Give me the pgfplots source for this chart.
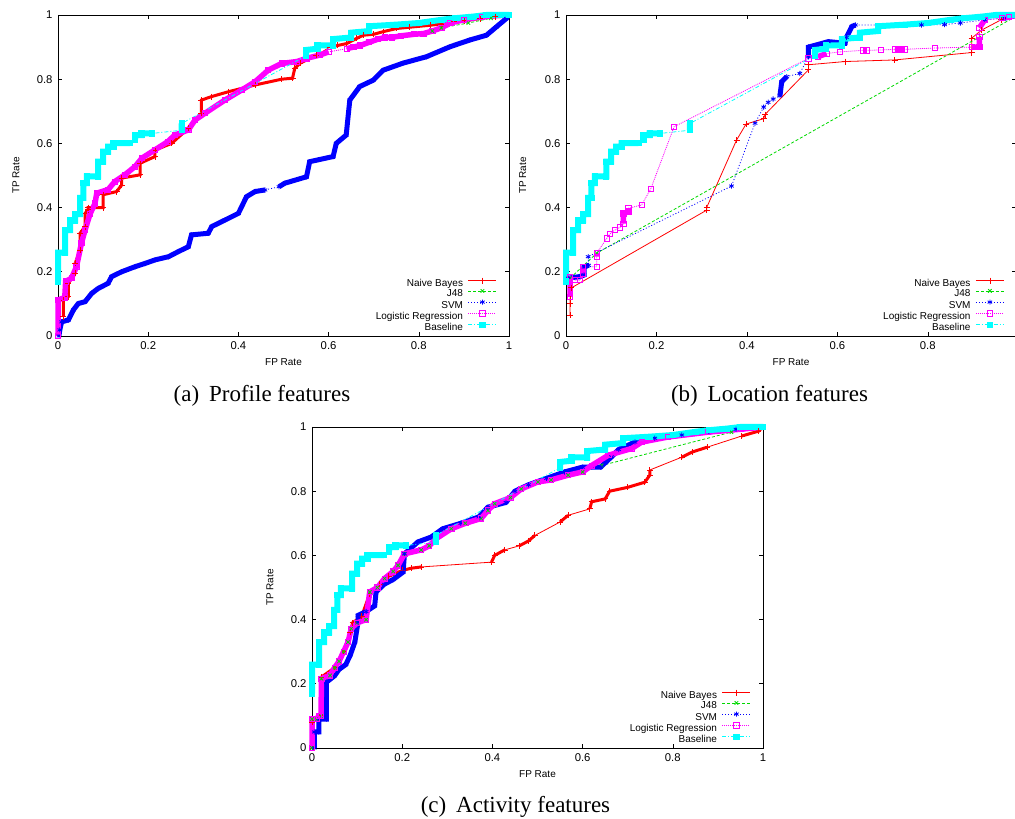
\documentclass[border=0pt]{standalone}
\usepackage{fontspec}
\setmainfont{Liberation Serif}
\setsansfont{Liberation Sans}
\newfontfamily\plotfont{Liberation Sans}
\usepackage{pgfplots}
\usepackage{pgfplotstable}
\pgfplotsset{compat=1.18}

\definecolor{nbred}{rgb}{1,0,0}
\definecolor{jgreen}{rgb}{0,0.85,0}
\definecolor{sblue}{rgb}{0,0,1}
\definecolor{lmag}{rgb}{1,0,1}
\definecolor{bcyan}{rgb}{0,1,1}

% ROC points (FP rate, TP rate); "nan" rows split the dense runs drawn as bands
\pgfplotstableread{
x y
0 0.17
0 0.26
0.016 0.26
0.016 0.33
0.027 0.33
0.027 0.36
0.038 0.36
0.038 0.38
0.049 0.38
0.049 0.43
0.056 0.43
0.056 0.476
0.064 0.476
0.064 0.497
0.089 0.497
0.089 0.543
0.100 0.543
0.100 0.574
0.111 0.574
0.111 0.590
0.123 0.590
0.123 0.601
0.160 0.601
nan nan
0.171 0.612
0.171 0.626
0.185 0.626
0.185 0.631
0.208 0.631
nan nan
0.274 0.641
0.274 0.662
nan nan
0.550 0.873
0.550 0.891
0.575 0.895
0.575 0.905
0.61 0.905
0.61 0.925
0.65 0.93
0.65 0.945
0.69 0.95
0.69 0.965
0.75 0.97
0.80 0.975
0.85 0.985
0.88 0.99
0.92 0.995
0.95 1
1 1
}\baseline

% ---------- Profile features ----------
\pgfplotstableread{
x y
0.012 0.06
0.012 0.112
0.023 0.123
0.023 0.164
0.038 0.196
0.038 0.226
0.049 0.268
0.049 0.32
0.060 0.341
0.060 0.382
0.067 0.393
0.067 0.40
0.10 0.40
0.10 0.44
0.13 0.45
0.141 0.47
0.141 0.492
0.182 0.502
0.182 0.538
0.215 0.559
0.215 0.579
0.252 0.60
0.289 0.647
0.318 0.694
0.318 0.735
0.341 0.746
0.378 0.761
0.437 0.782
0.496 0.80
0.52 0.803
0.525 0.834
0.537 0.85
0.573 0.875
nan nan
0.603 0.90
0.62 0.905
0.64 0.911
0.662 0.927
0.677 0.937
0.70 0.94
0.721 0.948
0.751 0.958
0.78 0.962
0.825 0.968
0.85 0.972
0.877 0.979
0.90 0.982
0.936 0.989
0.97 0.995
1 1
}\profNB

\pgfplotstableread{
x y
0.83 0.95
0.85 0.96
0.91 0.975
0.96 0.99
1 1
}\profJ

\pgfplotstableread{
x y
0.002 0
0.004 0.019
0.008 0.044
0.023 0.05
0.034 0.081
0.045 0.101
0.060 0.107
0.075 0.133
0.089 0.148
0.111 0.164
0.119 0.185
0.141 0.20
0.171 0.216
0.193 0.226
0.215 0.237
0.245 0.247
0.267 0.263
0.289 0.278
0.296 0.315
0.333 0.32
0.341 0.341
0.37 0.361
0.40 0.382
0.418 0.434
0.437 0.45
0.459 0.455
nan nan
0.49 0.465
0.503 0.476
0.551 0.496
0.558 0.543
0.61 0.559
0.617 0.60
0.639 0.626
0.647 0.735
0.669 0.777
0.699 0.797
0.721 0.828
0.765 0.85
0.817 0.87
0.869 0.901
0.913 0.922
0.95 0.937
0.972 0.963
0.994 0.989
1 1
}\profSVM

\pgfplotstableread{
x y
0 0
0 0.112
0.015 0.12
0.017 0.17
0.03 0.18
0.041 0.216
0.052 0.289
0.060 0.33
0.071 0.38
0.082 0.413
0.086 0.445
0.111 0.456
0.126 0.481
0.148 0.502
0.171 0.528
0.186 0.554
0.214 0.579
0.243 0.605
0.259 0.626
0.289 0.642
0.304 0.673
0.326 0.694
0.37 0.735
0.407 0.766
0.437 0.792
0.466 0.828
0.496 0.849
0.53 0.855
0.551 0.865
0.58 0.875
0.60 0.885
nan nan
0.64 0.895
0.655 0.90
0.67 0.905
0.69 0.915
0.71 0.925
0.725 0.93
0.74 0.93
0.76 0.935
0.79 0.94
0.81 0.942
0.83 0.95
0.85 0.96
0.87 0.975
0.90 0.985
0.94 0.995
1 1
}\profLR

% ---------- Location features ----------
\pgfplotstableread{
x y
0.009 0.065
0.009 0.10
0.009 0.115
0.012 0.15
0.311 0.392
0.311 0.40
0.377 0.61
0.398 0.66
0.437 0.677
0.44 0.69
0.536 0.829
0.536 0.845
0.617 0.855
0.727 0.86
0.897 0.883
0.897 0.928
0.919 0.953
0.962 0.985
1 1
}\locNB

\pgfplotstableread{
x y
0.009 0.18
0.068 0.258
1 1
}\locJ

\pgfplotstableread{
x y
0.005 0.18
0.03 0.185
0.04 0.19
0.04 0.215
0.05 0.22
nan nan
0.049 0.247
nan nan
0.366 0.467
nan nan
0.418 0.663
nan nan
0.437 0.713
nan nan
0.447 0.728
nan nan
0.458 0.738
nan nan
0.473 0.748
0.477 0.792
0.488 0.808
nan nan
0.517 0.818
nan nan
0.536 0.87
0.536 0.90
0.58 0.917
0.617 0.912
0.62 0.93
0.632 0.964
0.64 0.969
nan nan
0.786 0.969
nan nan
0.837 0.97
nan nan
0.872 0.975
nan nan
0.926 0.985
nan nan
0.97 0.99
1 1
}\locSVM

\pgfplotstableread{
x y
0.009 0.122
0.009 0.185
nan nan
0.02 0.174
nan nan
0.031 0.174
nan nan
0.038 0.195
0.038 0.216
nan nan
0.068 0.216
nan nan
0.068 0.247
0.068 0.258
nan nan
0.09 0.304
nan nan
0.097 0.318
nan nan
0.108 0.33
nan nan
0.119 0.338
nan nan
0.127 0.35
0.127 0.382
0.138 0.387
0.138 0.398
nan nan
0.167 0.408
nan nan
0.187 0.457
nan nan
0.239 0.652
nan nan
0.536 0.865
nan nan
0.557 0.87
0.576 0.88
nan nan
0.606 0.885
nan nan
0.657 0.89
0.665 0.89
nan nan
0.697 0.891
nan nan
0.727 0.893
0.738 0.893
0.749 0.893
nan nan
0.815 0.897
nan nan
0.897 0.90
0.914 0.90
0.914 0.932
nan nan
0.914 0.96
0.926 0.985
nan nan
0.963 0.99
0.98 0.995
1 1
}\locLR

% ---------- Activity features ----------
\pgfplotstableread{
x y
0 0
0 0.08
0.02 0.10
0.02 0.22
0.05 0.25
0.07 0.30
0.085 0.36
0.09 0.39
0.11 0.41
0.128 0.48
0.15 0.51
0.17 0.535
0.20 0.553
0.22 0.56
0.242 0.564
nan nan
0.398 0.579
0.405 0.60
0.427 0.617
nan nan
0.46 0.63
0.48 0.645
0.494 0.662
nan nan
0.55 0.704
0.568 0.725
nan nan
0.616 0.745
0.62 0.767
0.65 0.776
0.66 0.80
0.70 0.812
0.738 0.828
0.749 0.85
0.749 0.866
nan nan
0.82 0.906
0.843 0.922
0.876 0.937
nan nan
0.953 0.972
0.99 0.987
1 1
}\actNB

\pgfplotstableread{
x y
0 0
0 0.09
0.01 0.09
0.02 0.10
0.021 0.216
0.04 0.226
0.05 0.25
0.06 0.27
0.07 0.30
0.08 0.33
0.087 0.372
0.10 0.39
0.12 0.40
0.128 0.486
0.145 0.50
0.161 0.528
0.18 0.55
0.191 0.569
0.205 0.605
0.242 0.617
0.26 0.63
0.275 0.652
0.309 0.683
0.34 0.70
0.375 0.715
0.39 0.74
0.405 0.761
0.44 0.78
0.464 0.807
0.501 0.829
0.53 0.835
0.568 0.85
0.60 0.86
0.642 0.88
0.93 0.984
1 1
}\actJ

\pgfplotstableread{
x y
0.005 0
0.005 0.05
0.015 0.05
0.015 0.09
0.032 0.09
0.032 0.205
0.05 0.225
0.06 0.245
0.075 0.26
0.085 0.29
0.095 0.33
0.102 0.392
0.102 0.413
0.12 0.425
0.139 0.443
0.142 0.486
0.16 0.51
0.18 0.525
0.202 0.548
0.205 0.605
0.235 0.642
0.264 0.657
0.29 0.683
0.33 0.70
0.37 0.72
0.39 0.75
0.43 0.765
0.45 0.80
0.48 0.82
0.52 0.84
0.56 0.86
0.60 0.875
0.64 0.875
0.664 0.907
0.68 0.93
0.716 0.953
0.76 0.965
0.82 0.975
0.88 0.985
0.94 0.993
1 1
}\actSVM

\pgfplotstableread{
x y
0 0
0 0.09
0.01 0.09
0.015 0.10
0.02 0.10
0.021 0.216
0.04 0.226
0.05 0.25
0.06 0.27
0.07 0.30
0.08 0.33
0.087 0.372
0.10 0.39
0.12 0.40
0.128 0.486
0.145 0.50
0.161 0.528
0.18 0.55
0.191 0.569
0.205 0.605
0.242 0.617
0.26 0.63
0.275 0.652
0.309 0.683
0.34 0.70
0.375 0.715
0.39 0.74
0.405 0.761
0.44 0.78
0.464 0.807
0.501 0.829
0.53 0.835
0.568 0.85
0.60 0.86
0.62 0.88
0.657 0.912
0.709 0.933
0.731 0.953
0.79 0.969
0.878 0.984
0.95 0.993
1 1
}\actLR

\pgfplotsset{
  nb/.style={color=nbred, solid, line width=0.8pt, mark=+, mark size=3pt, mark options={solid}},
  jf/.style={color=jgreen, dash pattern=on 3pt off 2pt, line width=0.8pt, mark=x, mark size=2.5pt, mark options={solid}},
  svm/.style={color=sblue, dash pattern=on 1pt off 2pt, line width=0.8pt, mark=asterisk, mark size=2.6pt, mark options={solid}},
  lr/.style={color=lmag, dash pattern=on 1pt off 1pt, line width=0.8pt, mark=square, mark size=2.6pt, mark options={solid}},
  bl/.style={color=bcyan, dash pattern=on 4pt off 2pt on 1pt off 2pt, line width=0.8pt, mark=square*, mark size=2.6pt, mark options={solid}},
  band/.style={line width=#1, solid, no marks, unbounded coords=jump, forget plot, line join=miter},
  rocaxis/.style={
    scale only axis, width=451pt, height=321pt,
    xmin=0, xmax=1, ymin=0, ymax=1, clip=false,
    xtick={0,0.2,0.4,0.6,0.8,1}, ytick={0,0.2,0.4,0.6,0.8,1},
    xticklabels={0,0.2,0.4,0.6,0.8,1}, yticklabels={0,0.2,0.4,0.6,0.8,1},
    tick align=inside, major tick length=4pt,
    axis line style={line width=0.9pt, black},
    tick style={line width=0.6pt, black},
    /pgf/number format/assume math mode=true,
    xticklabel style={font=\plotfont\fontsize{11.3}{13}\selectfont, yshift=-2.5pt},
    yticklabel style={font=\plotfont\fontsize{11.3}{13}\selectfont, xshift=-2pt},
    xlabel={FP Rate}, ylabel={TP Rate},
    every axis x label/.style={at={(axis description cs:0.5,-0.08)}, anchor=center,
      font=\plotfont\fontsize{10}{12}\selectfont},
    every axis y label/.style={at={(axis description cs:-0.093,0.5)}, rotate=90, anchor=center,
      font=\plotfont\fontsize{10}{12}\selectfont},
    legend plot pos=right,
    legend cell align=right,
    legend image code/.code={
      \draw[##1, mark repeat=2, mark phase=2] plot coordinates {(0pt,3.5pt) (14pt,3.5pt) (28pt,3.5pt)};
    },
    legend style={at={(0.973,0.009)}, anchor=south east, draw=none, fill=none,
      inner sep=0pt, outer sep=0pt, row sep=0pt,
      font=\plotfont\fontsize{10}{12}\selectfont,
      nodes={inner sep=0pt, text height=7.5pt, text depth=2.7pt},
      /tikz/every odd column/.append style={column sep=5pt}},
  },
}

\begin{document}
\begin{tikzpicture}
\useasboundingbox (0,0) rectangle (1015pt,819pt);

% (a) Profile features
\begin{axis}[rocaxis, at={(58pt,483pt)}, anchor=south west]
\addplot[nb, band=3pt] table {\profNB};
\addplot[nb] table {\profNB};
\addplot[jf] table {\profJ};
\addplot[svm, band=5pt] table {\profSVM};
\addplot[svm] table {\profSVM};
\addplot[lr, band=5.5pt] table {\profLR};
\addplot[lr] table {\profLR};
\addplot[bl, band=6pt] table {\baseline};
\addplot[bl] table {\baseline};
\legend{Naive Bayes, J48, SVM, Logistic Regression, Baseline}
\end{axis}

% (b) Location features
\begin{axis}[rocaxis, at={(566pt,483pt)}, anchor=south west,
  width=450pt, xmax=0.995, xticklabels={0,0.2,0.4,0.6,0.8,{}},
  every axis y label/.style={at={(axis description cs:-0.096,0.5)}, rotate=90, anchor=center,
    font=\plotfont\fontsize{10}{12}\selectfont},
  legend style={at={(0.974,0.009)}}]
\addplot[nb] table {\locNB};
\addplot[jf] table {\locJ};
\addplot[svm, band=5pt] table {\locSVM};
\addplot[svm] table {\locSVM};
\addplot[lr, band=5.5pt] table {\locLR};
\addplot[lr] table {\locLR};
\addplot[bl, band=6pt] table {\baseline};
\addplot[bl] table {\baseline};
\legend{Naive Bayes, J48, SVM, Logistic Regression, Baseline}
\end{axis}

% (c) Activity features
\begin{axis}[rocaxis, at={(312pt,71pt)}, anchor=south west]
\addplot[nb, band=3pt] table {\actNB};
\addplot[nb] table {\actNB};
\addplot[jf] table {\actJ};
\addplot[svm, band=5pt] table {\actSVM};
\addplot[svm] table {\actSVM};
\addplot[lr, band=5.5pt] table {\actLR};
\addplot[lr] table {\actLR};
\addplot[bl, band=6pt] table {\baseline};
\addplot[bl] table {\baseline};
\legend{Naive Bayes, J48, SVM, Logistic Regression, Baseline}
\end{axis}

\begin{scope}[font=\fontsize{23}{26}\selectfont]
\node[anchor=base] at (262pt,417pt) {(a)\hspace{0.43em}Profile features};
\node[anchor=base] at (769.5pt,417pt) {(b)\hspace{0.43em}Location features};
\node[anchor=base] at (515.5pt,6pt) {(c)\hspace{0.43em}Activity features};
\end{scope}
\end{tikzpicture}
\end{document}
